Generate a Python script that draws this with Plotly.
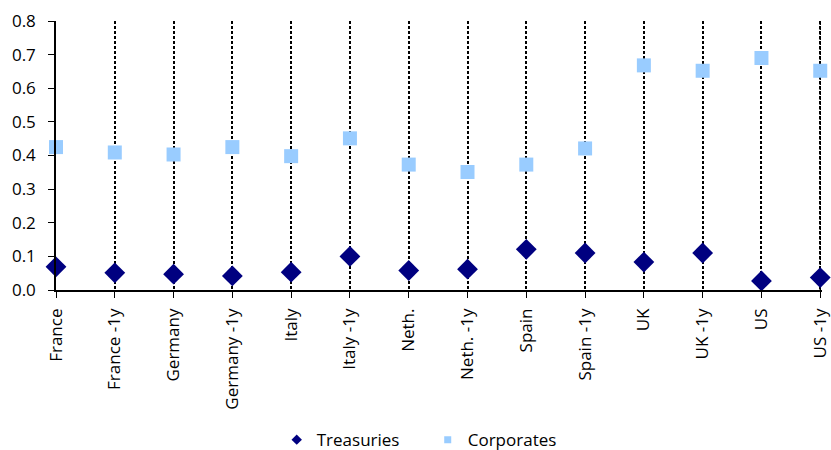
import plotly.graph_objects as go

categories = ["France", "France -1y", "Germany", "Germany -1y", "Italy", "Italy -1y",
              "Neth.", "Neth. -1y", "Spain", "Spain -1y", "UK", "UK -1y", "US", "US -1y"]
treasuries = [0.069, 0.051, 0.047, 0.042, 0.053, 0.100, 0.058, 0.062, 0.121, 0.110,
              0.083, 0.110, 0.027, 0.037]
corporates = [0.425, 0.409, 0.403, 0.425, 0.398, 0.451, 0.373, 0.351, 0.373, 0.421,
              0.668, 0.652, 0.690, 0.652]
yticks = [0.0, 0.1, 0.2, 0.3, 0.4, 0.5, 0.6, 0.7, 0.8]

font_family = "Open Sans"
fs = 17
navy = "#000080"
light = "#99CCFF"
grid_dash = "3px,2px"
grid_w = 1.5

fig = go.Figure()
fig.add_trace(go.Scatter(x=categories, y=treasuries, mode="markers", name="Treasuries",
                         marker=dict(symbol="diamond", size=16, color=navy),
                         cliponaxis=False, showlegend=False))
fig.add_trace(go.Scatter(x=categories, y=corporates, mode="markers", name="Corporates",
                         marker=dict(symbol="square", size=14, color=light),
                         cliponaxis=False, showlegend=False))
# legend entries with small symbols
fig.add_trace(go.Scatter(x=[None], y=[None], mode="markers", name="Treasuries",
                         marker=dict(symbol="diamond", size=8, color=navy)))
fig.add_trace(go.Scatter(x=[None], y=[None], mode="markers", name="Corporates",
                         marker=dict(symbol="square", size=7, color=light)))

# gridline at the last category (Plotly drops gridlines at the axis end)
fig.add_shape(type="line", xref="x", yref="paper", x0=categories[-1], x1=categories[-1],
              y0=0, y1=1, line=dict(color="black", width=grid_w, dash=grid_dash), layer="below")

fig.update_layout(
    width=831, height=450,
    margin=dict(l=56, r=9, t=21, b=160),
    paper_bgcolor="white", plot_bgcolor="white",
    font=dict(family=font_family, size=fs, color="black"),
    showlegend=True,
    legend=dict(orientation="h", xref="container", yref="container",
                x=0.333, xanchor="left", y=0.022, yanchor="middle",
                font=dict(family=font_family, size=fs, color="black"),
                entrywidth=106, bgcolor="rgba(0,0,0,0)"),
    xaxis=dict(type="category", range=[0, 13.03], showline=True, linecolor="black", linewidth=1.5,
               ticks="outside", ticklen=6, tickcolor="black", tickangle=-90,
               ticklabelstandoff=4,
               tickfont=dict(family=font_family, size=fs, color="black"),
               showgrid=True, gridcolor="black", griddash=grid_dash, gridwidth=grid_w,
               zeroline=False, automargin=False),
    yaxis=dict(range=[0, 0.8], tickvals=yticks, tickformat=".1f", showline=True,
               linecolor="black", linewidth=1.5, ticks="outside", ticklen=6,
               ticklabelstandoff=9,
               tickcolor="black", showgrid=False, zeroline=False, automargin=False,
               tickfont=dict(family=font_family, size=fs, color="black")),
)

fig.write_html("out.html")
